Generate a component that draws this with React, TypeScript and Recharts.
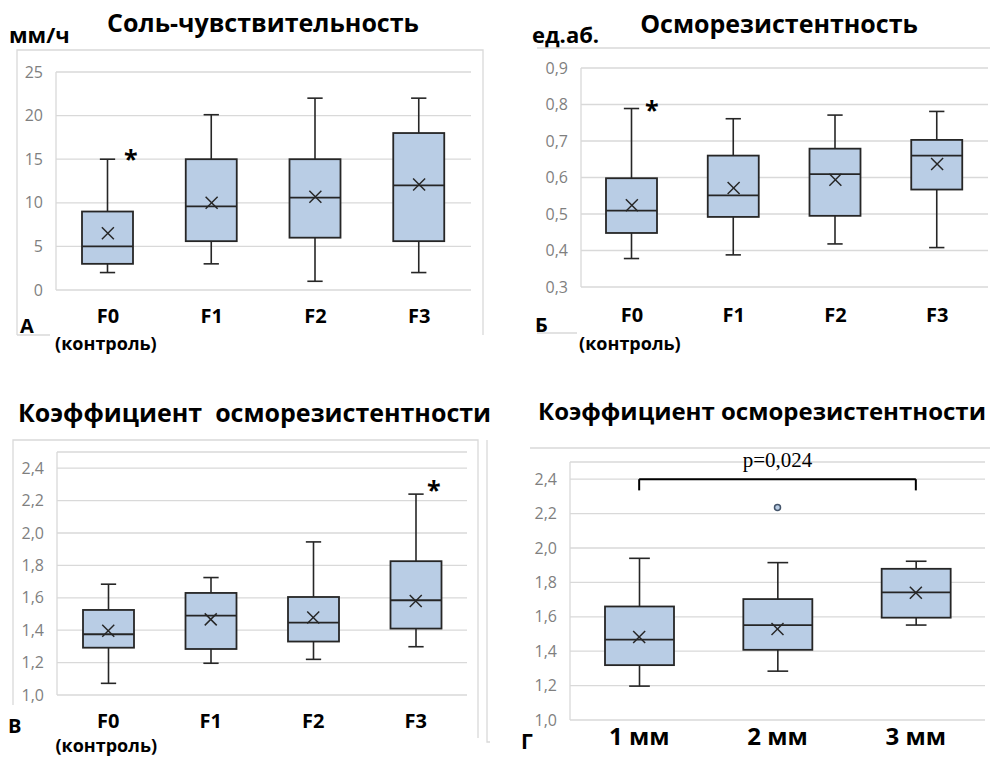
import React from 'react';
import {
  ComposedChart, Bar, Line, XAxis, YAxis, CartesianGrid, ReferenceDot, ReferenceLine,
} from 'recharts';

const FONT = '"Open Sans", "Noto Sans", sans-serif';
const BOX_FILL = '#b9cde5';
const INK = '#262626';
const GRID = '#d9d9d9';
const TICK_GRAY = '#7f7f7f';

// А — соль-чувствительность, мм/ч
const FIB_CATS = ['F0', 'F1', 'F2', 'F3'];
const SALT_MIN = [2, 3, 1, 2];
const SALT_Q1 = [3, 5.6, 6, 5.6];
const SALT_MED = [5, 9.6, 10.6, 12];
const SALT_Q3 = [9, 15, 15, 18];
const SALT_MAX = [15, 20.1, 22, 22];
const SALT_MEAN = [6.5, 10, 10.7, 12.1];
const SALT_TICKS = [0, 5, 10, 15, 20, 25];

// Б — осморезистентность, ед.аб.
const OSM_MIN = [0.378, 0.388, 0.418, 0.408];
const OSM_Q1 = [0.448, 0.492, 0.495, 0.567];
const OSM_MED = [0.509, 0.551, 0.609, 0.66];
const OSM_Q3 = [0.598, 0.66, 0.679, 0.703];
const OSM_MAX = [0.789, 0.761, 0.771, 0.781];
const OSM_MEAN = [0.524, 0.571, 0.594, 0.637];
const OSM_TICKS = [0.3, 0.4, 0.5, 0.6, 0.7, 0.8, 0.9];

// В — коэффициент осморезистентности по стадиям
const KF_MIN = [1.072, 1.196, 1.22, 1.298];
const KF_Q1 = [1.292, 1.284, 1.33, 1.41];
const KF_MED = [1.375, 1.49, 1.447, 1.585];
const KF_Q3 = [1.525, 1.63, 1.605, 1.826];
const KF_MAX = [1.684, 1.725, 1.945, 2.24];
const KF_MEAN = [1.397, 1.467, 1.478, 1.58];

// Г — коэффициент осморезистентности по размеру
const SIZE_CATS = ['1 мм', '2 мм', '3 мм'];
const KS_MIN = [1.197, 1.284, 1.552];
const KS_Q1 = [1.319, 1.408, 1.595];
const KS_MED = [1.467, 1.552, 1.742];
const KS_Q3 = [1.66, 1.703, 1.879];
const KS_MAX = [1.94, 1.915, 1.923];
const KS_MEAN = [1.483, 1.529, 1.74];
const KS_OUTLIER = [null, 2.236, null];

const K_TICKS = [1.0, 1.2, 1.4, 1.6, 1.8, 2.0, 2.2, 2.4];
const P_VALUE = 'p=0,024';

function rows(cats, min, q1, med, q3, max, mean, out?) {
  return cats.map((cat, i) => ({
    cat, range: [min[i], max[i]], min: min[i], q1: q1[i], med: med[i], q3: q3[i], max: max[i],
    mean: mean[i], out: out ? out[i] : null,
  }));
}

const saltData = rows(FIB_CATS, SALT_MIN, SALT_Q1, SALT_MED, SALT_Q3, SALT_MAX, SALT_MEAN);
const osmData = rows(FIB_CATS, OSM_MIN, OSM_Q1, OSM_MED, OSM_Q3, OSM_MAX, OSM_MEAN);
const kfData = rows(FIB_CATS, KF_MIN, KF_Q1, KF_MED, KF_Q3, KF_MAX, KF_MEAN);
const ksData = rows(SIZE_CATS, KS_MIN, KS_Q1, KS_MED, KS_Q3, KS_MAX, KS_MEAN, KS_OUTLIER);

const whole = (v: number) => String(v);
const comma = (v: number) => v.toFixed(1).replace('.', ',');

function BoxShape(props: any) {
  const { x, y, width, height, payload } = props;
  const { min, max, q1, med, q3 } = payload;
  const top = Math.min(y, y + height);
  const bottom = Math.max(y, y + height);
  const py = (v: number) => bottom - ((bottom - top) * (v - min)) / (max - min);
  const cx = x + width / 2;
  const cap = width * 0.3;
  const s = { stroke: INK, strokeWidth: 1.6 };
  return (
    <g>
      <line x1={cx} x2={cx} y1={py(max)} y2={py(q3)} {...s} />
      <line x1={cx} x2={cx} y1={py(q1)} y2={py(min)} {...s} />
      <line x1={cx - cap / 2} x2={cx + cap / 2} y1={py(max)} y2={py(max)} {...s} />
      <line x1={cx - cap / 2} x2={cx + cap / 2} y1={py(min)} y2={py(min)} {...s} />
      <rect x={x} y={py(q3)} width={width} height={py(q1) - py(q3)} fill={BOX_FILL} stroke={INK} strokeWidth={1.8} />
      <line x1={x} x2={x + width} y1={py(med)} y2={py(med)} stroke={INK} strokeWidth={1.8} />
    </g>
  );
}

function MeanMark(p: any) {
  if (p.cy == null) return <g key={p.key} />;
  const r = 6;
  return (
    <g key={p.key}>
      <line x1={p.cx - r} x2={p.cx + r} y1={p.cy - r} y2={p.cy + r} stroke={INK} strokeWidth={1.5} />
      <line x1={p.cx - r} x2={p.cx + r} y1={p.cy + r} y2={p.cy - r} stroke={INK} strokeWidth={1.5} />
    </g>
  );
}

function OutlierMark(p: any) {
  if (p.cy == null || p.value == null) return <g key={p.key} />;
  return <circle key={p.key} cx={p.cx} cy={p.cy} r={3} fill={BOX_FILL} stroke="#44546a" strokeWidth={1.5} />;
}

function CatTick({ x, y, payload, dy, subDy, size }: any) {
  return (
    <g>
      <text x={x} y={y + dy} textAnchor="middle" fontFamily={FONT} fontWeight={700} fontSize={size} fill="#000">
        {payload.value}
      </text>
      {payload.value === 'F0' && subDy ? (
        <text x={x - 2} y={y + subDy} textAnchor="middle" fontFamily={FONT} fontWeight={700} fontSize={18} fill="#000">
          (контроль)
        </text>
      ) : null}
    </g>
  );
}

function Star(dx: number, dy: number) {
  return (p: any) => (
    <text x={p.cx + dx} y={p.cy + dy} textAnchor="middle" fontFamily={FONT} fontWeight={700} fontSize={25} fill="#000">*</text>
  );
}

function BoxPanel({ data, left, top, width, height, margin, yWidth, xHeight, domain, ticks, fmt, barSize, tickDy, subDy, tickSize, children }: any) {
  return (
    <div style={{ position: 'absolute', left, top, width, height }}>
      <ComposedChart width={width} height={height} data={data} margin={margin}>
        <CartesianGrid horizontal vertical={false} stroke={GRID} strokeWidth={1.3} />
        <XAxis dataKey="cat" type="category" axisLine={false} tickLine={false} tickSize={0} tickMargin={0}
          height={xHeight} interval={0}
          tick={(p: any) => <CatTick {...p} dy={tickDy} subDy={subDy} size={tickSize} />} />
        <YAxis type="number" domain={domain} ticks={ticks} interval={0} width={yWidth}
          axisLine={{ stroke: GRID, strokeWidth: 1.3 }} tickLine={false} tickSize={0} tickMargin={13}
          tickFormatter={fmt} tick={{ fill: TICK_GRAY, fontSize: 16, fontFamily: FONT }} />
        <Bar dataKey="range" barSize={barSize} shape={<BoxShape />} isAnimationActive={false} />
        <Line dataKey="mean" stroke="none" dot={(p: any) => <MeanMark {...p} />} activeDot={false} isAnimationActive={false} />
        {children}
      </ComposedChart>
    </div>
  );
}

const T = { fontFamily: FONT, fontWeight: 700, fill: '#000' } as const;

export default function App() {
  return (
    <div style={{ position: 'absolute', left: 0, top: 0, width: 990, height: 757, background: '#fff', overflow: 'hidden' }}>
      <BoxPanel data={saltData} left={0} top={0} width={490} height={370} yWidth={56} xHeight={40}
        margin={{ top: 72, right: 19, bottom: 40, left: 0 }} domain={[0, 25]} ticks={SALT_TICKS} fmt={whole}
        barSize={51} tickDy={33} subDy={60} tickSize={20}>
        <ReferenceDot x={FIB_CATS[0]} y={SALT_MAX[0]} r={0} shape={Star(23, 9)} />
      </BoxPanel>

      <BoxPanel data={osmData} left={490} top={0} width={500} height={370} yWidth={91} xHeight={40}
        margin={{ top: 68, right: 2, bottom: 43, left: 0 }} domain={[0.3, 0.9]} ticks={OSM_TICKS} fmt={comma}
        barSize={51} tickDy={35} subDy={63} tickSize={20}>
        <ReferenceDot x={FIB_CATS[0]} y={OSM_MAX[0]} r={0} shape={Star(20, 10)} />
      </BoxPanel>

      <BoxPanel data={kfData} left={0} top={390} width={490} height={367} yWidth={57} xHeight={40}
        margin={{ top: 62, right: 23, bottom: 22, left: 0 }} domain={[1.0, 2.5]} ticks={K_TICKS} fmt={comma}
        barSize={51} tickDy={33} subDy={57} tickSize={20}>
        <ReferenceDot x={FIB_CATS[3]} y={KF_MAX[3]} r={0} shape={Star(18, 5)} />
      </BoxPanel>

      <BoxPanel data={ksData} left={490} top={390} width={500} height={367} yWidth={80} xHeight={30}
        margin={{ top: 72, right: 5, bottom: 7, left: 0 }} domain={[1.0, 2.5]} ticks={K_TICKS} fmt={comma}
        barSize={69} tickDy={25} subDy={0} tickSize={24}>
        <Line dataKey="out" stroke="none" dot={(p: any) => <OutlierMark {...p} />} activeDot={false} isAnimationActive={false} />
        <ReferenceLine segment={[{ x: SIZE_CATS[0], y: 2.4 }, { x: SIZE_CATS[2], y: 2.4 }]} stroke="#000" strokeWidth={2}
          label={{ value: P_VALUE, position: 'top', offset: 12, fill: '#000', fontSize: 21, fontFamily: '"Liberation Serif", serif' }} />
        <ReferenceLine segment={[{ x: SIZE_CATS[0], y: 2.4 }, { x: SIZE_CATS[0], y: 2.335 }]} stroke="#000" strokeWidth={2} />
        <ReferenceLine segment={[{ x: SIZE_CATS[2], y: 2.4 }, { x: SIZE_CATS[2], y: 2.335 }]} stroke="#000" strokeWidth={2} />
      </BoxPanel>

      <svg width={990} height={757} style={{ position: 'absolute', left: 0, top: 0, pointerEvents: 'none' }}>
        {/* frames */}
        <g stroke={GRID} strokeWidth={1.3} fill="none">
          <path d="M17 335 V50 H483 V335" />
          <path d="M17 335 H50" />
          <path d="M537 48 H990" />
          <path d="M537 333 H577" />
          <path d="M13 705 V440 H478 V738" />
          <path d="M487 440 V742 H490" />
          <path d="M530 448 H990" />
        </g>
        {/* titles */}
        <text x={263} y={32} textAnchor="middle" fontSize={25} {...T}>Соль-чувствительность</text>
        <text x={779} y={33} textAnchor="middle" fontSize={25} {...T}>Осморезистентность</text>
        <text x={18} y={422} fontSize={25} style={{ whiteSpace: 'pre' }} {...T}>Коэффициент  осморезистентности</text>
        <text x={538} y={420} fontSize={24} {...T}>Коэффициент осморезистентности</text>
        {/* units */}
        <text x={9} y={43} fontSize={22} {...T}>мм/ч</text>
        <text x={532} y={43} fontSize={22} {...T}>ед.аб.</text>
        {/* panel letters */}
        <text x={20} y={333} fontSize={20} {...T}>А</text>
        <text x={535} y={332} fontSize={20} {...T}>Б</text>
        <text x={8} y={733} fontSize={20} {...T}>В</text>
        <text x={521} y={749} fontSize={21} {...T}>Г</text>
      </svg>
    </div>
  );
}
